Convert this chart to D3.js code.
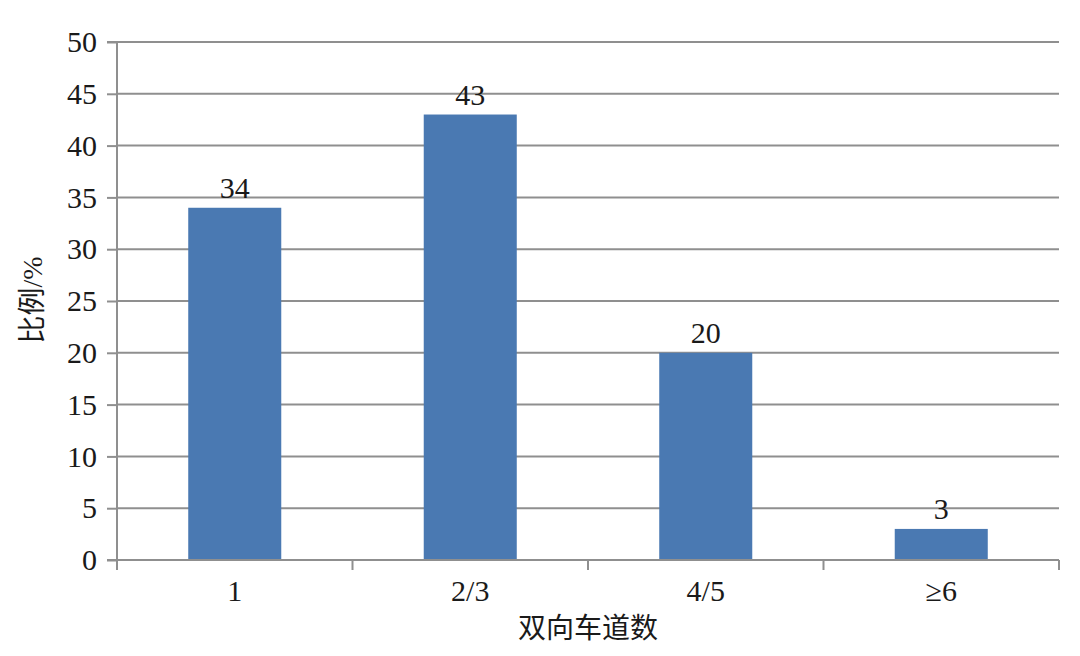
<!DOCTYPE html>
<html>
<head>
<meta charset="utf-8">
<script src="https://cdn.jsdelivr.net/npm/d3@7"></script>
<style>
  body { margin: 0; background: #fff; }
  svg text { font-family: "Liberation Serif", "Noto Sans CJK SC", serif; fill: #1a1a1a; }
</style>
</head>
<body>
<svg id="chart" width="1080" height="656"></svg>
<script>
// lane-count categories and their share in %
const categories = ['1', '2/3', '4/5', '≥6'];
const values = [34, 43, 20, 3];
const yTicks = [0, 5, 10, 15, 20, 25, 30, 35, 40, 45, 50];

const margin = {top: 42, right: 21, bottom: 96, left: 117};
const width = 1080, height = 656;
const svg = d3.select('#chart');

const x = d3.scaleBand().domain(categories)
    .range([margin.left, width - margin.right])
    .paddingInner(0.605).paddingOuter(0.3025);
const y = d3.scaleLinear().domain([0, 50]).range([height - margin.bottom, margin.top]);

// horizontal grid
svg.append('g')
    .selectAll('line').data(yTicks.slice(1)).enter().append('line')
    .attr('x1', margin.left).attr('x2', width - margin.right)
    .attr('y1', d => y(d)).attr('y2', d => y(d))
    .attr('stroke', '#8f8f8f').attr('stroke-width', 2);

// bars
svg.append('g')
    .selectAll('rect').data(values).enter().append('rect')
    .attr('x', (d, i) => x(categories[i]))
    .attr('y', d => y(d))
    .attr('width', x.bandwidth())
    .attr('height', d => y(0) - y(d))
    .attr('fill', '#4a79b2');

// value labels
svg.append('g')
    .selectAll('text').data(values).enter().append('text')
    .attr('x', (d, i) => x(categories[i]) + x.bandwidth() / 2)
    .attr('y', d => y(d) - 10)
    .attr('text-anchor', 'middle')
    .style('font-size', '30px')
    .text(d => d);

// y axis
const yAxis = svg.append('g')
    .attr('transform', 'translate(' + margin.left + ',0)')
    .call(d3.axisLeft(y).tickValues(yTicks).tickSize(10).tickPadding(10));
yAxis.select('.domain').attr('stroke', '#8f8f8f').attr('stroke-width', 2)
    .attr('d', 'M-10,' + y(50) + 'H0V' + (y(0) + 10));
yAxis.selectAll('.tick line').attr('stroke', '#8f8f8f').attr('stroke-width', 2);
yAxis.selectAll('.tick text').style('font-size', '30px').attr('fill', '#1a1a1a');

// x axis: ticks at band boundaries
const xAxis = svg.append('g')
    .attr('transform', 'translate(0,' + y(0) + ')');
xAxis.append('line')
    .attr('x1', margin.left - 10).attr('x2', width - margin.right)
    .attr('stroke', '#8f8f8f').attr('stroke-width', 2);
xAxis.selectAll('.xt').data(d3.range(1, categories.length + 1)).enter().append('line')
    .attr('x1', i => margin.left + x.step() * i)
    .attr('x2', i => margin.left + x.step() * i)
    .attr('y1', 0).attr('y2', 10)
    .attr('stroke', '#8f8f8f').attr('stroke-width', 2);
xAxis.selectAll('.xl').data(categories).enter().append('text')
    .attr('x', d => x(d) + x.bandwidth() / 2)
    .attr('y', 41)
    .attr('text-anchor', 'middle')
    .style('font-size', '30px')
    .text(d => d);

// axis titles
svg.append('text')
    .attr('x', 588).attr('y', 638)
    .attr('text-anchor', 'middle')
    .style('font-size', '28px')
    .style('font-family', '"Noto Sans CJK SC", sans-serif')
    .text('双向车道数');
svg.append('text')
    .attr('transform', 'translate(42,300) rotate(-90)')
    .attr('text-anchor', 'middle')
    .style('font-size', '28px')
    .text('比例/%');
</script>
</body>
</html>
